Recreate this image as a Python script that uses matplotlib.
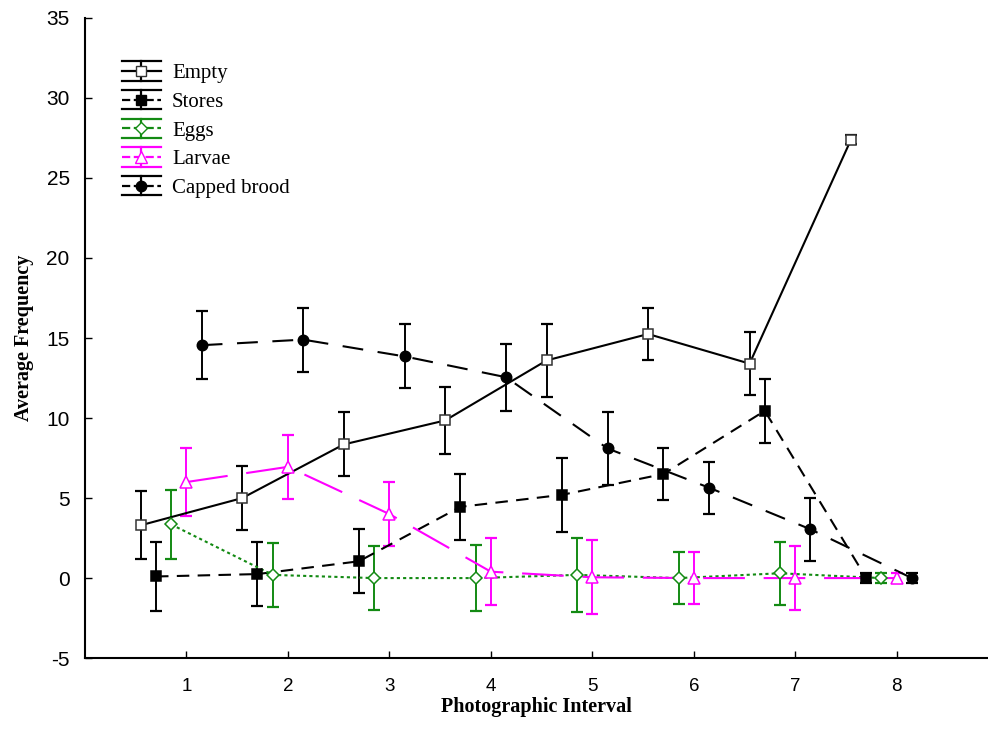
import matplotlib
matplotlib.use("Agg")
import matplotlib.pyplot as plt
from matplotlib.lines import Line2D
from matplotlib.legend_handler import HandlerBase

plt.rcParams["axes.unicode_minus"] = False

# photographic intervals 1..8
intervals = [1, 2, 3, 4, 5, 6, 7, 8]

empty = [3.3, 5.0, 8.35, 9.85, 13.6, 15.25, 13.4, 27.4]
stores = [0.1, 0.25, 1.05, 4.45, 5.2, 6.5, 10.45, 0.0]
eggs = [3.35, 0.2, 0.0, 0.0, 0.2, 0.0, 0.3, 0.0]
larvae = [6.0, 6.95, 4.0, 0.4, 0.05, 0.0, 0.0, 0.0]
capped = [14.55, 14.9, 13.85, 12.55, 8.1, 5.65, 3.05, 0.0]

# standard error is the same for every category within an interval
stderr = [2.13, 2.0, 2.0, 2.08, 2.3, 1.63, 1.98, 0.3]

labels = ["Empty", "Stores", "Eggs", "Larvae", "Capped brood"]
values = [empty, stores, eggs, larvae, capped]

GREEN = "#138a13"
MAGENTA = "#ff00ff"

styles = [
    dict(offset=-0.45, color="black", ls="-", marker="s", mfc="white", mec="#333333", ms=7.5),
    dict(offset=-0.30, color="black", ls=(0, (6, 4)), marker="s", mfc="black", mec="black", ms=7.5),
    dict(offset=-0.15, color=GREEN, ls=(0, (1.5, 1.5)), marker="D", mfc="white", mec=GREEN, ms=6.5),
    dict(offset=0.0, color=MAGENTA, ls=(0, (20, 9)), marker="^", mfc="white", mec=MAGENTA, ms=8.5),
    dict(offset=0.15, color="black", ls=(0, (10, 7)), marker="o", mfc="black", mec="black", ms=7.5),
]


class ErrorbarHandler(HandlerBase):
    """Legend key: data line + marker with a full-width error bar symbol."""

    def create_artists(self, legend, orig_handle, xdescent, ydescent,
                       width, height, fontsize, trans):
        x0, y0 = -xdescent, -ydescent
        xm, ym = x0 + width / 2, y0 + height / 2
        color = orig_handle.get_color()
        lw = 1.6
        arts = [
            Line2D([x0, x0 + width], [y0 + height, y0 + height], color=color, lw=lw),
            Line2D([x0, x0 + width], [y0, y0], color=color, lw=lw),
            Line2D([xm, xm], [y0, y0 + height], color=color, lw=lw),
            Line2D([x0, x0 + width], [ym, ym], color=color, lw=lw,
                   ls=orig_handle.get_linestyle()),
            Line2D([xm], [ym], ls="none", marker=orig_handle.get_marker(),
                   ms=orig_handle.get_markersize(),
                   mfc=orig_handle.get_markerfacecolor(),
                   mec=orig_handle.get_markeredgecolor()),
        ]
        for a in arts:
            a.set_transform(trans)
        return arts


fig = plt.figure(figsize=(9.88, 7.47), dpi=100)
ax = fig.add_axes([0.086, 0.119, 0.914, 0.857])

proxies = []
for lab, vals, st in zip(labels, values, styles):
    xs = [i + st["offset"] for i in intervals]
    ax.errorbar(xs, vals, yerr=stderr, color=st["color"], ls="none",
                elinewidth=1.4, capsize=4.2, capthick=1.6, zorder=2)
    ax.plot(xs, vals, color=st["color"], lw=1.5, ls=st["ls"], zorder=3)
    ax.plot(xs, vals, ls="none", marker=st["marker"], ms=st["ms"],
            mfc=st["mfc"], mec=st["mec"], mew=1.1, zorder=4)
    proxies.append(Line2D([], [], color=st["color"], ls=st["ls"], lw=1.5,
                          marker=st["marker"], ms=st["ms"],
                          mfc=st["mfc"], mec=st["mec"]))

ax.set_xlim(0, 8.9)
ax.set_ylim(-5, 35)
ax.set_xticks(intervals)
ax.set_yticks(range(-5, 36, 5))

for side in ("top", "right"):
    ax.spines[side].set_visible(False)
for side in ("left", "bottom"):
    ax.spines[side].set_linewidth(1.5)

ax.tick_params(direction="in", length=5, width=1.0)
ax.tick_params(axis="x", pad=14)
ax.tick_params(axis="y", pad=11)
for t in ax.get_xticklabels():
    t.set_fontfamily(["Liberation Sans Narrow", "Liberation Sans"])
    t.set_fontsize(13.5)
for t in ax.get_yticklabels():
    t.set_fontfamily(["Liberation Sans", "DejaVu Sans"])
    t.set_fontsize(15)

ax.set_xlabel("Photographic Interval", fontfamily="Liberation Serif",
              fontweight="bold", fontsize=14.5, labelpad=2)
ax.set_ylabel("Average Frequency", fontfamily="Liberation Serif",
              fontweight="bold", fontsize=14.5, labelpad=9)

leg = ax.legend(proxies, labels, handler_map={Line2D: ErrorbarHandler()},
                loc="upper left", bbox_to_anchor=(0.041, 0.932),
                frameon=False, borderpad=0, borderaxespad=0,
                handlelength=1.85, handleheight=1.05, handletextpad=0.55,
                labelspacing=0.33, prop={"family": "Liberation Serif", "size": 15})

fig.savefig("out.png", dpi=100)
